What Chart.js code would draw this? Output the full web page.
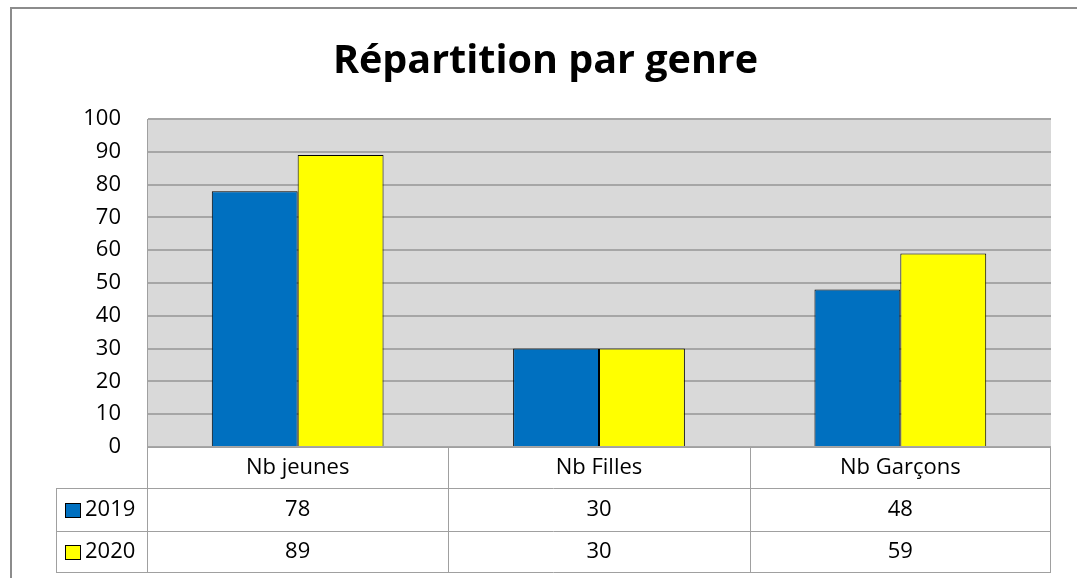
<!DOCTYPE html>
<html>
<head>
<meta charset="utf-8">
<script src="https://cdn.jsdelivr.net/npm/chart.js@4.4.0/dist/chart.umd.min.js"></script>
<style>
  html, body { margin: 0; padding: 0; background: #fff; }
  #myChart { display: block; }
</style>
</head>
<body>
<canvas id="myChart" width="1077" height="578"></canvas>
<script>
// data
var categories = ["Nb jeunes", "Nb Filles", "Nb Garçons"];
var seriesNames = ["2019", "2020"];
var values2019 = [78, 30, 48];
var values2020 = [89, 30, 59];
var yMin = 0, yMax = 100, yStep = 10;

var blue = "#0070c0";
var yellow = "#ffff00";
var lineGray = "#a0a0a0";
var font = '"Open Sans", "Noto Sans", sans-serif';

// gray plot background + outer frame
var background = {
  id: "background",
  beforeDraw: function (chart) {
    var c = chart.ctx, a = chart.chartArea;
    c.save();
    c.fillStyle = "#d9d9d9";
    c.fillRect(a.left, a.top, a.right - a.left, a.bottom - a.top);
    c.strokeStyle = "#8c8c8c";
    c.lineWidth = 2;
    c.strokeRect(11, 8, 1200, 700);
    c.restore();
  }
};

// data table under the plot (Excel style)
var dataTable = {
  id: "dataTable",
  afterDraw: function (chart) {
    var c = chart.ctx, a = chart.chartArea, x = chart.scales.x;
    var n = categories.length;
    var step = x.getPixelForValue(1) - x.getPixelForValue(0);
    var legendLeft = 56;
    var rows = [a.bottom, 488, 531, 572];

    c.save();
    c.strokeStyle = lineGray;
    c.lineWidth = 1;
    c.beginPath();
    // horizontal lines
    c.moveTo(a.left, rows[0] + 0.5); c.lineTo(a.right, rows[0] + 0.5);
    for (var r = 1; r < rows.length; r++) {
      c.moveTo(legendLeft, rows[r] + 0.5);
      c.lineTo(a.right, rows[r] + 0.5);
    }
    // vertical lines
    c.moveTo(legendLeft + 0.5, rows[1]); c.lineTo(legendLeft + 0.5, rows[3]);
    for (var i = 0; i <= n; i++) {
      var bx = Math.round(x.getPixelForValue(i) - step / 2) + 0.5;
      if (i === n) bx = Math.round(a.right) - 0.5;
      c.moveTo(bx, rows[0]); c.lineTo(bx, rows[3]);
    }
    c.stroke();

    c.fillStyle = "#000";
    c.font = "22px " + font;
    c.textBaseline = "middle";
    c.textAlign = "center";
    for (var j = 0; j < n; j++) {
      var cx = x.getPixelForValue(j);
      c.fillText(categories[j], cx, (rows[0] + rows[1]) / 2);
    }
    chart.data.datasets.forEach(function (ds, k) {
      var cy = (rows[k + 1] + rows[k + 2]) / 2;
      c.textAlign = "center";
      c.fillStyle = "#000";
      for (var j = 0; j < n; j++) {
        c.fillText(String(ds.data[j]), x.getPixelForValue(j), cy);
      }
      // legend key
      c.fillStyle = ds.backgroundColor;
      c.fillRect(65, Math.round(cy - 7), 16, 15);
      c.strokeStyle = "#000";
      c.strokeRect(65.5, Math.round(cy - 7) + 0.5, 15, 14);
      c.fillStyle = "#000";
      c.textAlign = "left";
      c.fillText(ds.label, 85, cy);
    });
    c.restore();
  }
};

var ctx = document.getElementById("myChart").getContext("2d");
var myChart = new Chart(ctx, {
  type: "bar",
  plugins: [background, dataTable],
  data: {
    labels: categories,
    datasets: [
      {
        label: seriesNames[0],
        data: values2019,
        backgroundColor: blue,
        borderColor: "#000",
        borderWidth: 1
      },
      {
        label: seriesNames[1],
        data: values2020,
        backgroundColor: yellow,
        borderColor: "#000",
        borderWidth: 1
      }
    ]
  },
  options: {
    responsive: false,
    animation: false,
    layout: {
      padding: { left: 40, right: 26, top: 0, bottom: 131 }
    },
    datasets: {
      bar: { categoryPercentage: 0.57, barPercentage: 1 }
    },
    plugins: {
      legend: { display: false },
      tooltip: { enabled: false },
      title: {
        display: true,
        text: "Répartition par genre",
        color: "#000",
        font: { family: font, size: 39.5, weight: "bold", lineHeight: 1.2 },
        padding: { top: 38, bottom: 33.6 }
      }
    },
    scales: {
      x: {
        display: false
      },
      y: {
        min: yMin,
        max: yMax,
        afterFit: function (scale) { scale.width = 107; },
        ticks: {
          stepSize: yStep,
          padding: 26,
          color: "#000",
          font: { family: font, size: 22 }
        },
        grid: {
          color: "#a6a6a6",
          lineWidth: 2,
          drawTicks: false
        },
        border: { display: true, color: lineGray, width: 1 }
      }
    }
  }
});
</script>
</body>
</html>
